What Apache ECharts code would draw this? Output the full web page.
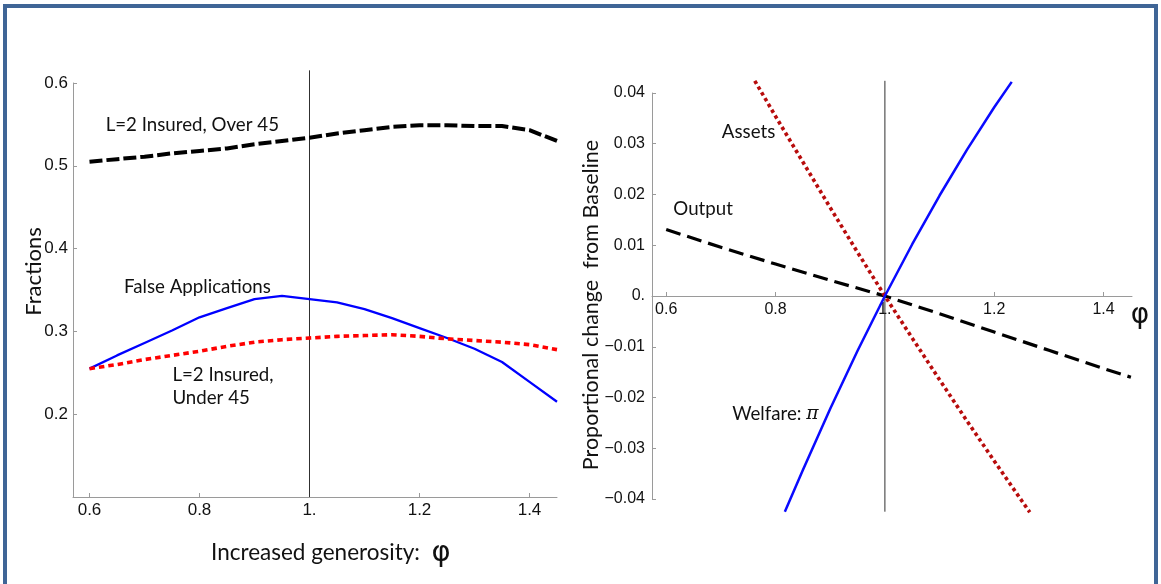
<!DOCTYPE html>
<html>
<head>
<meta charset="utf-8">
<script src="https://cdn.jsdelivr.net/npm/echarts@6/dist/echarts.min.js"></script>
<style>
  html, body { margin: 0; padding: 0; background: #ffffff; }
  #wrap { position: relative; width: 1161px; height: 584px; overflow: hidden; }
  #chart { position: absolute; left: 0; top: 0; width: 1161px; height: 584px; }
  #frame { position: absolute; left: 3px; top: 4px; width: 1147px; height: 600px;
           border: 4px solid #3f6596; border-bottom: none; pointer-events: none; }
</style>
</head>
<body>
<div id="wrap">
  <div id="chart"></div>
  <div id="frame"></div>
</div>
<script>
// ---- Left panel: fractions against generosity phi ----
const phiGrid = [0.6, 0.65, 0.7, 0.75, 0.8, 0.85, 0.9, 0.95, 1.0, 1.05, 1.1, 1.15, 1.2, 1.25, 1.3, 1.35, 1.4, 1.45];
const insuredOver45 = [0.505, 0.508, 0.511, 0.515, 0.518, 0.521, 0.526, 0.530, 0.534, 0.539, 0.543, 0.547, 0.549, 0.549, 0.548, 0.548, 0.543, 0.530];
const falseApplications = [0.255, 0.271, 0.286, 0.301, 0.317, 0.328, 0.339, 0.343, 0.339, 0.335, 0.327, 0.316, 0.304, 0.292, 0.279, 0.263, 0.239, 0.215];
const insuredUnder45 = [0.255, 0.260, 0.266, 0.271, 0.276, 0.282, 0.287, 0.290, 0.292, 0.294, 0.295, 0.296, 0.294, 0.291, 0.289, 0.287, 0.284, 0.278];
const leftXTicks = [0.6, 0.8, 1.0, 1.2, 1.4];
const leftYTicks = [0.2, 0.3, 0.4, 0.5, 0.6];
const leftRefLine = [[1.0, 0.1], [1.0, 0.6153]];

// ---- Right panel: proportional change from baseline ----
const outputPhi = [0.6, 0.7, 0.8, 0.9, 1.0, 1.1, 1.2, 1.3, 1.4, 1.45];
const outputChange = [0.0131, 0.0096, 0.0063, 0.0031, 0.0, -0.0035, -0.0071, -0.0107, -0.0143, -0.0160];
const assetsPhi = [0.762, 0.8, 0.85, 0.9, 0.95, 1.0, 1.05, 1.1, 1.15, 1.2, 1.25, 1.265];
const assetsChange = [0.0424, 0.0354, 0.0264, 0.0174, 0.0086, 0.0, -0.0083, -0.0165, -0.0246, -0.0325, -0.0403, -0.0426];
const welfarePhi = [0.817, 0.85, 0.9, 0.95, 1.0, 1.05, 1.1, 1.15, 1.2, 1.232];
const welfareChange = [-0.0425, -0.0343, -0.0222, -0.0108, 0.0, 0.0102, 0.0198, 0.0288, 0.0372, 0.0422];
const rightXTicks = [0.6, 0.8, 1.0, 1.2, 1.4];
const rightYTicks = [-0.04, -0.03, -0.02, -0.01, 0.0, 0.01, 0.02, 0.03, 0.04];
const rightRefLine = [[1.0, -0.0425], [1.0, 0.0424]];

// ---- In-plot captions, anchored in data coordinates ----
const leftCaptions = [
  { at: [0.6285, 0.549], text: 'L=2 Insured, Over 45' },
  { at: [0.6618, 0.354], text: 'False Applications' },
  { at: [0.7498, 0.2474], text: 'L=2 Insured,' },
  { at: [0.7498, 0.2200], text: 'Under 45' }
];
const rightCaptions = [
  { at: [0.7008, 0.0323], text: 'Assets' },
  { at: [0.6121, 0.0172], text: 'Output' },
  { at: [0.7197, -0.0232], text: '{t|Welfare: }{m|π}' }
];

const zip = (xs, ys) => xs.map((x, i) => [x, ys[i]]);

const tickFont = '"Liberation Sans", Arial, sans-serif';
const textFont = 'Lato, "Open Sans", "DejaVu Sans", sans-serif';
const axisGrey = '#9a9a9a';
const inkColor = '#111111';
const captionSize = 18.7;

function fmtX(v) {
  const r = Math.round(v * 10) / 10;
  return Number.isInteger(r) ? r + '.' : r.toFixed(1);
}
function fmtRightY(v) {
  if (Math.abs(v) < 1e-9) return '0.';
  return (v < 0 ? '\u2212' : '') + Math.abs(v).toFixed(2);
}

function valueAxis(gridIndex, min, max, ticks, fmt, fontSize, margin) {
  return {
    type: 'value', gridIndex, min, max,
    axisLine: { show: true, onZero: false, lineStyle: { color: axisGrey, width: 1 } },
    axisTick: { show: true, inside: true, length: 4, customValues: ticks, lineStyle: { color: axisGrey } },
    axisLabel: { customValues: ticks, formatter: fmt, fontSize, fontFamily: tickFont, color: inkColor, margin },
    splitLine: { show: false }
  };
}

function captionSeries(xAxisIndex, yAxisIndex, list) {
  return {
    type: 'scatter', xAxisIndex, yAxisIndex, silent: true, clip: false,
    symbolSize: 1, itemStyle: { color: 'rgba(255,255,255,0)', opacity: 1 },
    label: {
      show: true, position: 'right', distance: 0,
      fontFamily: textFont, fontSize: captionSize, color: inkColor,
      rich: {
        t: { fontFamily: textFont, fontSize: captionSize, color: inkColor },
        m: { fontFamily: '"DejaVu Serif", serif', fontStyle: 'italic', fontSize: captionSize, color: inkColor }
      }
    },
    labelLayout: { hideOverlap: false },
    data: list.map(c => ({ value: c.at, label: { formatter: c.text } }))
  };
}

function lineSeries(xAxisIndex, yAxisIndex, data, color, width, dash, z) {
  return {
    type: 'line', xAxisIndex, yAxisIndex, data, showSymbol: false, clip: false, silent: true,
    z: z || 2,
    lineStyle: { color, width, type: dash || 'solid', cap: 'butt', join: 'round' }
  };
}

const chart = echarts.init(document.getElementById('chart'), null, { renderer: 'canvas' });

// The right panel's phi axis sits on the zero line, halfway up its symmetric range.
const rightGrid = { left: 652, top: 93, width: 480, height: 406, outerBoundsMode: 'none' };
const rightXAxis = valueAxis(1, 0.574, 1.452, rightXTicks, fmtX, 16, 6);
rightXAxis.offset = -rightGrid.height / 2;

chart.setOption({
  animation: false,
  backgroundColor: '#ffffff',
  grid: [
    { left: 73, top: 83, width: 484, height: 414, outerBoundsMode: 'none' },
    rightGrid
  ],
  xAxis: [
    valueAxis(0, 0.57, 1.45, leftXTicks, fmtX, 17, 5),
    rightXAxis
  ],
  yAxis: [
    valueAxis(0, 0.1, 0.6, leftYTicks, v => (Math.round(v * 10) / 10).toFixed(1), 17, 5),
    valueAxis(1, -0.04, 0.04, rightYTicks, fmtRightY, 16, 7)
  ],
  series: [
    lineSeries(0, 0, leftRefLine, '#303030', 1, 'solid', 1),
    lineSeries(0, 0, zip(phiGrid, insuredOver45), '#000000', 4, [13, 4]),
    lineSeries(0, 0, zip(phiGrid, falseApplications), '#0000ff', 2.3),
    lineSeries(0, 0, zip(phiGrid, insuredUnder45), '#ff0000', 3.6, [5.5, 4]),
    captionSeries(0, 0, leftCaptions),

    lineSeries(1, 1, rightRefLine, '#303030', 1, 'solid', 1),
    lineSeries(1, 1, zip(outputPhi, outputChange), '#000000', 3.2, [15, 7]),
    lineSeries(1, 1, zip(assetsPhi, assetsChange), '#b80c0c', 3.6, [3.5, 3.2]),
    lineSeries(1, 1, zip(welfarePhi, welfareChange), '#0a0aff', 2.5),
    captionSeries(1, 1, rightCaptions)
  ],
  graphic: [
    { type: 'text', x: 33.5, y: 271.5, rotation: Math.PI / 2, silent: true,
      style: { text: 'Fractions', font: '22px ' + textFont, fill: inkColor, align: 'center', verticalAlign: 'middle' } },
    { type: 'text', x: 591, y: 305, rotation: Math.PI / 2, silent: true,
      style: { text: 'Proportional change  from Baseline', font: '21.5px ' + textFont, fill: inkColor, align: 'center', verticalAlign: 'middle' } },
    { type: 'text', x: 211, y: 553, silent: true,
      style: {
        text: '{a|Increased generosity:  }{b|φ}', align: 'left', verticalAlign: 'middle', fill: inkColor,
        rich: {
          a: { font: '22.5px ' + textFont, fill: inkColor },
          b: { font: '29px "DejaVu Sans", sans-serif', fill: inkColor }
        }
      } },
    { type: 'text', x: 1140, y: 316, silent: true,
      style: { text: 'φ', font: '28px "DejaVu Sans", sans-serif', fill: inkColor, align: 'center', verticalAlign: 'middle' } }
  ]
});
</script>
</body>
</html>
